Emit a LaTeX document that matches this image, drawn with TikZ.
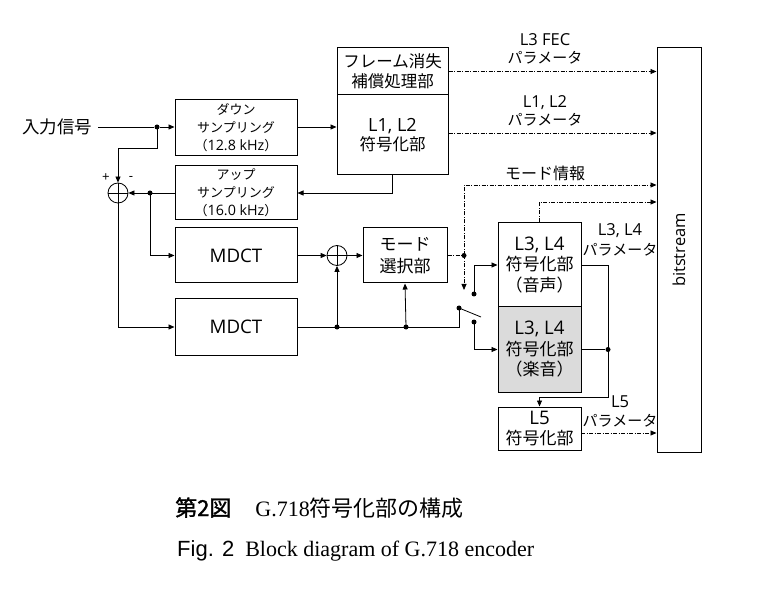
\documentclass[tikz,border=0pt]{standalone}
\usepackage{fontspec}
\setmainfont{Noto Sans CJK JP}
\newfontfamily\tms{Liberation Serif}
\newfontfamily\arial{Liberation Sans}
\newfontfamily\lat[Scale=1.1]{Open Sans}
\newfontfamily\jpb[FakeBold=1.5]{Noto Sans CJK JP}
\usetikzlibrary{arrows.meta,calc}
\newcommand\fsz[2]{\fontsize{#1}{#2}\selectfont}
\tikzset{
  box/.style={draw, line width=1pt, inner sep=0pt, align=center},
  conn/.style={line width=0.8pt},
  arr/.style={conn, -{Triangle[length=6pt,width=5pt]}},
  dd/.style={dash pattern=on 4pt off 1.5pt on 1pt off 1.5pt},
  dot/.style={circle, fill, inner sep=0pt, minimum size=5pt},
  sumc/.style={circle, draw, line width=0.8pt, minimum size=20pt, inner sep=0pt,
    path picture={\draw[line width=0.8pt] (path picture bounding box.north) -- (path picture bounding box.south)
      (path picture bounding box.west) -- (path picture bounding box.east);}},
  lbl/.style={align=center, inner sep=0pt}
}
\begin{document}
\begin{tikzpicture}[x=1pt,y=-1pt]
\useasboundingbox (0,0) rectangle (781,601);
% boxes
\node[box, minimum width=122pt, minimum height=56pt, font=\fsz{13}{18}] (ds) at (236,128) {ダウン\\サンプリング\\（{\lat 12.8 kHz}）};
\node[box, minimum width=122pt, minimum height=54pt, font=\fsz{13}{18}] (us) at (236,193) {アップ\\サンプリング\\（{\lat 16.0 kHz}）};
\node[box, minimum width=122pt, minimum height=55pt, font=\fsz{17}{18}] (m1) at (236,255.5) {\lat MDCT};
\node[box, minimum width=122pt, minimum height=56pt, font=\fsz{17}{18}] (m2) at (236,327) {\lat MDCT};
\node[box, minimum width=111pt, minimum height=47pt, font=\fsz{16.5}{20}] (fec) at (392.5,71.5) {フレーム消失\\補償処理部};
\node[box, minimum width=111pt, minimum height=80pt, font=\fsz{16.5}{19}] (l12) at (392.5,135) {{\lat L1, L2}\\符号化部};
\node[box, minimum width=84pt, minimum height=55pt, font=\fsz{17}{22}] (mode) at (405,255.5) {モード\\選択部};
\node[box, minimum width=83pt, minimum height=84pt, font=\fsz{17}{20.5}] (l34a) at (539.5,265) {{\lat L3, L4}\\符号化部\\（音声）};
\node[box, minimum width=83pt, minimum height=85pt, fill=black!14, font=\fsz{17}{20.5}] (l34b) at (539.5,349.5) {{\lat L3, L4}\\符号化部\\（楽音）};
\node[box, minimum width=83pt, minimum height=43pt, font=\fsz{17}{20}] (l5) at (539.5,428.5) {{\lat L5}\\符号化部};
\node[box, minimum width=44pt, minimum height=404pt] (bs) at (679,250) {};
\node[rotate=90, font=\fsz{15}{18}] (bst) at (bs.center) {\lat bitstream};
% input
\node[lbl, font=\fsz{17.5}{20}] (in) at (57,127) {入力信号};
% sums
\node[sumc] (s1) at (118,193) {};
\node[sumc] (s2) at (337,255.5) {};
\node[lbl, font=\fsz{12}{12}] (plus) at (106,178) {\lat +};
\node[lbl, font=\fsz{12}{12}] (minus) at (131,178) {\lat -};
% junctions
\node[dot] (j1) at (157,127) {};
\node[dot] (j2) at (150,193) {};
\node[dot] (j3) at (337,327) {};
\node[dot] (j4) at (406,327) {};
\node[dot] (j5) at (464,255.5) {};
\node[dot] (p) at (459,308) {};
\node[dot] (t1) at (474,294) {};
\node[dot] (t2) at (474,322) {};
\node[dot] (j6) at (608,349.5) {};
\coordinate (c1) at (118,148);
\coordinate (c2) at (459,327);
\coordinate (sw) at (481,317);
\coordinate (c3) at (464,185);
\coordinate (c4) at (464,290);
\coordinate (c5) at (539.5,202);
\coordinate (c6) at (539.5,397);
\coordinate (c7) at (581,433);
% solid connectors
\draw[conn] (in.east) ++(6pt,0) coordinate (ie) -- (j1);
\draw[arr] (j1) -- (j1 -| ds.west);
\draw[arr] (j1.center) |- (c1) -- (s1.north);
\draw[arr] (ds.east |- j1) -- (j1 -| l12.west);
\draw[arr] (l12.south) |- (us.east);
\draw[arr] (us.west) -- (s1.east);
\draw[arr] (j2.center) |- (m1.west);
\draw[arr] (s1.south) |- (m2.west);
\draw[arr] (m1.east) -- (s2.west);
\draw[arr] (s2.east) -- (mode.west);
\draw[conn] (m2.east) -- (c2) -- (p.center);
\draw[arr] (j3.center) -- (s2.south);
\draw[arr] (j4.center) -- (mode.south);
\draw[conn] (p.center) -- (sw);
\draw[arr] (t1.center) |- (l34a.west);
\draw[arr] (t2.center) |- (l34b.west);
\draw[conn] (l34a.east) -| (j6.center);
\draw[conn] (l34b.east) -- (j6);
\draw[arr] (j6.center) |- (c6) -- (l5.north);
% dashed connectors
\draw[arr, dd] (fec.east) -- (fec.east -| bs.west);
\draw[arr, dd] (l12.east) ++(0,-2) coordinate (l12o) -- (l12o -| bs.west);
\draw[conn, dd] (mode.east) -- (j5);
\draw[arr, dd] (j5.center) -- (c4);
\draw[arr, dd] (j5.center) -- (c3) -- (c3 -| bs.west);
\draw[arr, dd] (l34a.north) -- (c5) -- (c5 -| bs.west);
\draw[arr, dd] (c7) -- (c7 -| bs.west);
% labels
\node[lbl, font=\fsz{15}{18}] (lf) at (545,49) {{\lat L3 FEC}\\パラメータ};
\node[lbl, font=\fsz{15}{18}] (ll12) at (545,111) {{\lat L1, L2}\\パラメータ};
\node[lbl, font=\fsz{16}{18}] (lm) at (545,173) {モード情報};
\node[lbl, font=\fsz{15}{20}] (l34l) at (620,240) {{\lat L3, L4}\\パラメータ};
\node[lbl, font=\fsz{15}{19}] (l5l) at (620,411) {{\lat L5}\\パラメータ};
% caption
\node[anchor=base west, inner sep=0pt, font=\fsz{22}{26}] (cap1) at (175,516) {{\jpb 第2図}\hspace{24pt}{\tms G.718}符号化部の構成};
\node[anchor=base west, inner sep=0pt, font=\fsz{22}{26}] (cap2) at (177,556) {{\arial Fig. 2}\hspace{11pt}{\tms Block diagram of G.718 encoder}};
\end{tikzpicture}
\end{document}
